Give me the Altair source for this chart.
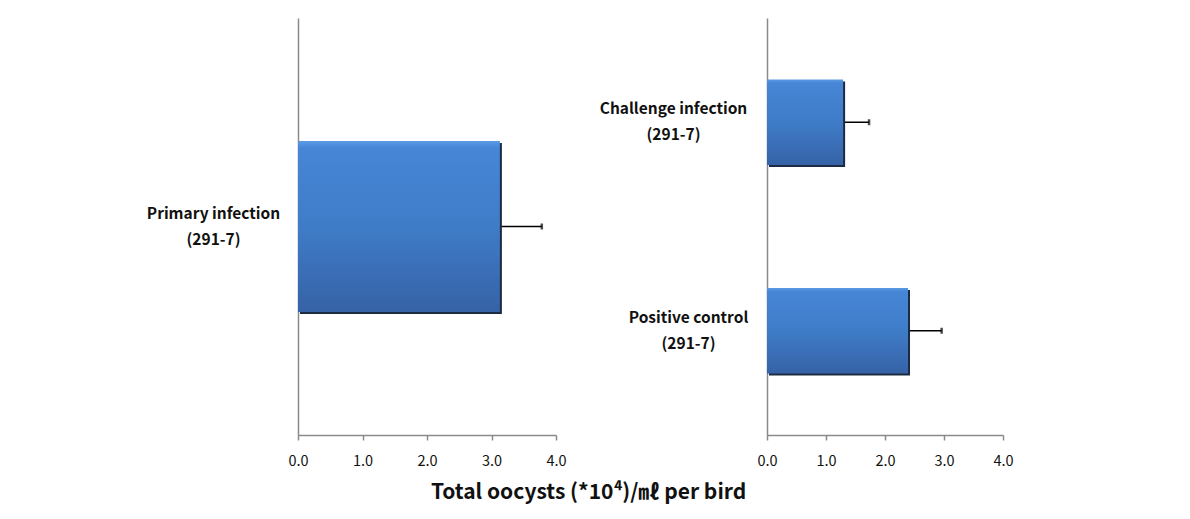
import altair as alt
import pandas as pd

FONT = "Noto Sans CJK KR"

left_groups = ["Primary infection|(291-7)"]
left_means = [3.13]
left_errs = [0.65]

right_groups = ["Challenge infection|(291-7)", "Positive control|(291-7)"]
right_means = [1.29, 2.39]
right_errs = [0.44, 0.57]

x_ticks = [0, 1, 2, 3, 4]
x_title = "Total oocysts (*10⁴)/㎖ per bird"

gradient = alt.Gradient(
    gradient="linear", x1=0, y1=0, x2=0, y2=1,
    stops=[alt.GradientStop(color="#5A9AE4", offset=0),
           alt.GradientStop(color="#4786D6", offset=0.04),
           alt.GradientStop(color="#3F7CC8", offset=0.5),
           alt.GradientStop(color="#3662A6", offset=1)])


def panel(groups, means, errs, width, extent, pad):
    df = pd.DataFrame({"group": groups, "mean": means, "err": errs})
    df["upper"] = df["mean"] + df["err"]
    yscale = alt.Scale(paddingInner=0.59, paddingOuter=0.295)
    yaxis = alt.Axis(title=None, ticks=False, tickSize=0, domainColor="#8a8a8a",
                     domainWidth=1.5,
                     labelExpr="split(datum.label, '|')", labelAlign="center",
                     labelBaseline="middle", labelPadding=pad, labelLineHeight=26,
                     labelOffset=-13,
                     labelFont=FONT, labelFontSize=15.5, labelFontWeight="bold",
                     labelColor="#111111", minExtent=extent, maxExtent=extent,
                     labelLimit=0)
    yenc = alt.Y("group:N", sort=groups, scale=yscale, axis=yaxis)
    xenc = alt.X("mean:Q", scale=alt.Scale(domain=[0, 4], nice=False),
                 axis=alt.Axis(values=x_ticks, format=".1f", title=None, grid=False,
                               domainColor="#8a8a8a", domainWidth=1.5,
                               tickColor="#8a8a8a", tickWidth=1.5, tickSize=5,
                               labelFlush=False,
                               labelPadding=14, labelFont=FONT, labelFontSize=14.5,
                               labelColor="#111111"))
    ysimple = alt.Y("group:N", sort=groups, scale=yscale)
    shadow = alt.Chart(df).mark_bar(color="#1d2b42", xOffset=2, x2Offset=2,
                                    yOffset=2, y2Offset=2).encode(x=xenc, y=yenc)
    bar = alt.Chart(df).mark_bar(color=gradient).encode(x=xenc, y=yenc)
    rule = alt.Chart(df).mark_rule(color="black", strokeWidth=1.5).encode(
        x="mean:Q", x2="upper:Q", y=ysimple)
    cap = alt.Chart(df).mark_tick(color="black", orient="vertical", size=6,
                                  thickness=2.5).encode(x="upper:Q", y=ysimple)
    return alt.layer(rule, shadow, bar, cap).properties(width=width, height=417)


left = panel(left_groups, left_means, left_errs, 258, 290, 85)
right_pad = {"condition": {"test": "datum.value == 'Challenge infection|(291-7)'",
                           "value": 94}, "value": 79}
right = panel(right_groups, right_means, right_errs, 236, 200, right_pad)

chart = alt.hconcat(left, right, spacing=211, bounds="flush").properties(
    title=alt.TitleParams(text=x_title, orient="bottom", anchor="middle",
                          font=FONT, fontSize=21, fontWeight="bold",
                          color="#111111", offset=14, dx=78),
    padding={"left": 0, "top": 10, "right": 5, "bottom": 5},
).configure_view(stroke=None)

chart.save("out.html", embed_options={"renderer": "svg", "actions": False})
